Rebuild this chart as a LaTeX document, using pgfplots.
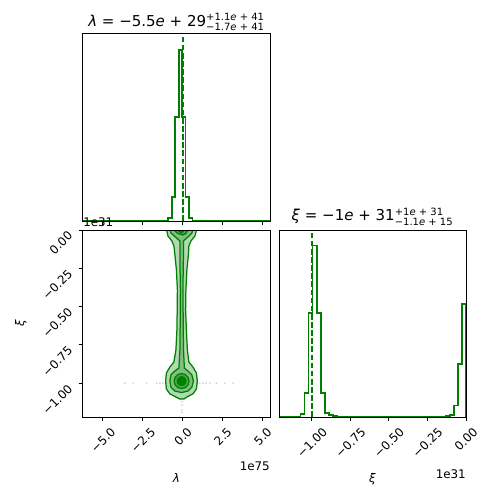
\documentclass[border=0pt]{standalone}
\usepackage{fontspec}
\setmainfont{DejaVu Sans}
\usepackage{amsmath}
\usepackage{graphicx}
\usepackage{pgfplots}
\pgfplotsset{compat=1.18}

\definecolor{mplgreen}{RGB}{0,128,0}
\colorlet{fillone}{mplgreen!30!white}
\colorlet{filltwo}{mplgreen!50!white}
\colorlet{fillthree}{mplgreen!70!white}

\newcommand{\tk}[1]{\rotatebox{45}{#1}}
\newcommand{\ticksize}{\fontsize{9.5}{11}\selectfont}
\newcommand{\titlesize}{\fontsize{12}{14}\selectfont}

\pgfplotsset{
  every axis title shift=0pt,
  corner/.style={
    scale only axis, width=149.6pt, height=149.6pt,
    anchor=north west, axis on top,
    tick align=outside, major tick length=3.5pt,
    xtick pos=left, ytick pos=left,
    axis line style={line width=0.8pt, black},
    tick style={line width=0.8pt, black},
    tick label style={font=\ticksize},
    xticklabel style={anchor=north, inner sep=0pt, yshift=-4pt},
    yticklabel style={anchor=north east, inner sep=0pt, xshift=-4pt},
    label style={font=\ticksize},
    xlabel style={at={(0.5,-0.3)}, anchor=north, inner sep=0pt},
    ylabel style={at={(-0.3,0.5)}, anchor=south, inner sep=0pt},
    title style={at={(0.5,1)}, anchor=base, inner sep=0pt, font=\titlesize},
  },
  hist/.style={const plot, mplgreen, line width=1.3pt},
  quant/.style={mplgreen, line width=1.2pt, dash pattern=on 4.5pt off 2pt},
}

\begin{document}
\begin{tikzpicture}
\path[use as bounding box] (0,0) rectangle (391.2pt,-399.2pt);

% lambda histogram
\begin{axis}[corner, name=top, at={(66.4pt,-26.4pt)}, height=150.4pt,
  xmin=-6.25, xmax=5.45, ymin=0, ymax=1.1,
  xtick={-5,-2.5,0,2.5,5}, xticklabel=\empty, ytick=\empty,
  title={\textit{λ} = −5.5\textit{e} + 29$^{\text{+1.1\textit{e} + 41}}_{\text{−1.7\textit{e} + 41}}$},
  title style={yshift=5.6pt}]
\addplot[hist] coordinates {(-6.25,0) (-0.916,0.016) (-0.698,0.139) (-0.48,0.607) (-0.262,1.0)
  (-0.044,0.607) (0.174,0.139) (0.392,0.016) (0.61,0) (5.45,0)};
\addplot[quant] coordinates {(0,0) (0,1.1)};
\end{axis}

% lambda vs xi
\begin{axis}[corner, name=ll, at={(66.4pt,-184pt)},
  xmin=-6.25, xmax=5.45, ymin=-1.2205, ymax=0,
  xtick={-5,-2.5,0,2.5,5},
  xticklabels={\tk{−5.0},\tk{−2.5},\tk{0.0},\tk{2.5},\tk{5.0}},
  ytick={-1,-0.75,-0.5,-0.25,0},
  yticklabels={\tk{−1.00},\tk{−0.75},\tk{−0.50},\tk{−0.25},\tk{0.00}},
  xlabel={\textit{λ}}, ylabel={\textit{ξ}}]
\addplot[only marks, mark=*, mark size=0.6pt, mplgreen, opacity=0.15] coordinates {
  (-3.625,-1.0) (-3.1,-1.0) (-2.27,-1.0) (-1.64,-1.0) (-1.44,-1.0) (-1.25,-1.0) (-1.06,-1.0)
  (0.89,-1.0) (1.06,-1.0) (1.25,-1.0) (1.44,-1.0) (1.69,-1.0) (2.1,-1.0) (2.625,-1.0) (3.14,-1.0)
  (-0.06,-1.099) (-0.06,-1.12) (-0.06,-1.142) (-0.06,-1.175) (-0.06,-1.19)};
% outer level
\addplot[fill=fillone, draw=mplgreen, line width=1pt] coordinates {
  (-1.019,0.033) (0.856,0.033) (0.856,0) (0.75,-0.039) (0.5,-0.072) (0.375,-0.104)
  (0.344,-0.163) (0.25,-0.261) (0.1875,-0.392) (0.169,-0.522) (0.219,-0.653) (0.281,-0.783)
  (0.375,-0.862) (0.625,-0.894) (0.844,-0.933) (0.906,-0.986) (0.844,-1.038) (0.625,-1.070)
  (0.25,-1.090) (0.0625,-1.103) (-0.1875,-1.103) (-0.4375,-1.090) (-0.8125,-1.070)
  (-1.031,-1.038) (-1.081,-0.986) (-1.031,-0.933) (-0.8125,-0.894) (-0.5625,-0.862)
  (-0.4375,-0.783) (-0.375,-0.653) (-0.356,-0.522) (-0.344,-0.392) (-0.406,-0.261)
  (-0.5,-0.163) (-0.5625,-0.104) (-0.6875,-0.072) (-0.9375,-0.039) (-1.019,0)} -- cycle;
% second level
\addplot[fill=filltwo, draw=mplgreen, line width=1pt] coordinates {
  (-0.8125,0.033) (0.625,0.033) (0.625,0) (0.5625,-0.0196) (0.3125,-0.0457) (0.031,-0.072)
  (0.031,-0.196) (0.0,-0.392) (0.019,-0.587) (0.0375,-0.783) (0.094,-0.901) (0.3125,-0.920)
  (0.5625,-0.946) (0.656,-0.986) (0.5625,-1.025) (0.3125,-1.051) (-0.081,-1.061) (-0.5,-1.051)
  (-0.75,-1.025) (-0.8125,-0.986) (-0.75,-0.946) (-0.5,-0.920) (-0.25,-0.901) (-0.1875,-0.783)
  (-0.169,-0.587) (-0.156,-0.392) (-0.1875,-0.196) (-0.1875,-0.072) (-0.469,-0.0457)
  (-0.75,-0.0196) (-0.8125,0)} -- cycle;
% third level
\addplot[fill=fillthree, draw=mplgreen, line width=1pt] coordinates {
  (0.388,-0.986) (0.325,-0.9615) (0.153,-0.9436) (-0.081,-0.937) (-0.315,-0.9436) (-0.487,-0.9615)
  (-0.55,-0.986) (-0.487,-1.0105) (-0.315,-1.0284) (-0.081,-1.035) (0.153,-1.0284) (0.325,-1.0105)} -- cycle;
\addplot[fill=fillthree, draw=mplgreen, line width=1pt] coordinates {
  (-0.5625,0.033) (0.3125,0.033) (0.3125,0) (0.1875,-0.0228) (0,-0.0326) (-0.3125,-0.0228) (-0.5625,0)} -- cycle;
% core
\addplot[fill=mplgreen, draw=mplgreen, line width=0.8pt] coordinates {
  (0.2,-0.986) (0.163,-0.9713) (0.06,-0.9605) (-0.081,-0.9566) (-0.222,-0.9605) (-0.325,-0.9713)
  (-0.362,-0.986) (-0.325,-1.0007) (-0.222,-1.0115) (-0.081,-1.0154) (0.06,-1.0115) (0.163,-1.0007)} -- cycle;
\addplot[fill=mplgreen, draw=mplgreen, line width=0.8pt] coordinates {
  (-0.344,0.033) (0.125,0.033) (0.125,0) (-0.094,-0.0196) (-0.344,0)} -- cycle;
\end{axis}

% xi histogram
\begin{axis}[corner, name=lr, at={(223.2pt,-184pt)},
  xmin=-1.214, xmax=0, ymin=0, ymax=1.09,
  xtick={-1,-0.75,-0.5,-0.25,0},
  xticklabels={\tk{−1.00},\tk{−0.75},\tk{−0.50},\tk{−0.25},\tk{0.00}},
  ytick=\empty, xlabel={\textit{ξ}},
  title={\textit{ξ} = −1\textit{e} + 31$^{\text{+1\textit{e} + 31}}_{\text{−1.1\textit{e} + 15}}$},
  title style={yshift=7.4pt}]
\addplot[hist] coordinates {(-1.214,0) (-1.074,0.016) (-1.048,0.14) (-1.022,0.606) (-0.996,1.0)
  (-0.969,0.606) (-0.943,0.139) (-0.917,0.022) (-0.891,0.01) (-0.865,0.006) (-0.839,0.003)
  (-0.813,0.002) (-0.787,0.001) (-0.21,0.001) (-0.183,0.003) (-0.157,0.004) (-0.131,0.006)
  (-0.105,0.012) (-0.079,0.068) (-0.052,0.31) (-0.026,0.66) (0,0)};
\addplot[quant] coordinates {(-1.0,0) (-1.0,1.09)};
\addplot[quant, line width=0.8pt, opacity=0.7] coordinates {(0,0) (0,1.09)};
\end{axis}

% offset texts
\node[anchor=south west, inner sep=0pt, font=\ticksize] at ([yshift=2.4pt]ll.north west) {1e31};
\node[anchor=north east, inner sep=0pt, font=\ticksize] at ([yshift=-36pt]ll.south east) {1e75};
\node[anchor=north east, inner sep=0pt, font=\ticksize] at ([yshift=-41.6pt]lr.south east) {1e31};
\end{tikzpicture}
\end{document}
